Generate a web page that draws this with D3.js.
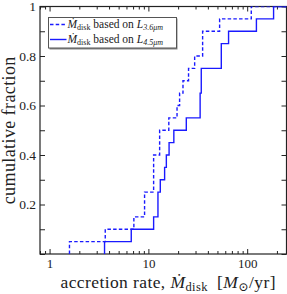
<!DOCTYPE html>
<html>
<head>
<meta charset="utf-8">
<script src="https://cdn.jsdelivr.net/npm/d3@7"></script>
<style>
  body { margin: 0; background: #fff; }
  text { font-family: "Liberation Serif", "DejaVu Serif", serif; fill: #222; }
</style>
</head>
<body>
<script>
//accretion rates (Msun/yr), 20 objects each
var rate36 = [1.59, 3.66, 7.13, 9.15, 9.15, 11.3, 11.3, 11.3, 13.0, 13.0,
              16.1, 19.5, 20.7, 22.4, 25.5, 29.4, 35.4, 35.4, 52.6, 110];
var rate45 = [3.60, 6.71, 11.3, 12.5, 12.5, 13.2, 14.6, 15.2, 16.2, 18.1,
              24.2, 33.4, 33.4, 34.3, 34.3, 54.7, 54.7, 64.8, 124, 185];

var xMajor = [1, 10, 100];
var xMinor = [0.8, 0.9, 2, 3, 4, 5, 6, 7, 8, 9, 20, 30, 40, 50, 60, 70, 80, 90, 200];
var yTicks = [0, 0.1, 0.2, 0.3, 0.4, 0.5, 0.6, 0.7, 0.8, 0.9, 1];
var yLabels = {0.2: "0.2", 0.4: "0.4", 0.6: "0.6", 0.8: "0.8", 1: "1"};

var width = 287,
    height = 294;
var pLeft = 40, pRight = 286.5, pTop = 6.5, pBottom = 254;

var svg = d3.select("body")
    .append("svg")
    .attr("width", width)
    .attr("height", height);

var x = d3.scaleLog().domain([0.8, 250]).range([pLeft, pRight]);
var y = d3.scaleLinear().domain([0, 1]).range([pBottom, pTop]);

//ticks point inward on all four sides
function drawAxis(axis, tx, ty){
    var g = svg.append("g")
        .attr("transform", "translate(" + tx + "," + ty + ")")
        .call(axis);
    g.select(".domain").remove();
    g.selectAll("line").attr("stroke", "#222");
    return g;
}

drawAxis(d3.axisBottom(x).tickValues(xMinor).tickSizeInner(-3).tickSizeOuter(0).tickFormat(""), 0, pBottom);
drawAxis(d3.axisTop(x).tickValues(xMinor).tickSizeInner(-3).tickSizeOuter(0).tickFormat(""), 0, pTop);
drawAxis(d3.axisTop(x).tickValues(xMajor).tickSizeInner(-5).tickSizeOuter(0).tickFormat(""), 0, pTop);
var gx = drawAxis(d3.axisBottom(x).tickValues(xMajor).tickSizeInner(-5).tickSizeOuter(0)
        .tickPadding(5).tickFormat(d3.format("d")), 0, pBottom);
gx.selectAll("text").attr("font-size", 13);

var gy = drawAxis(d3.axisLeft(y).tickValues(yTicks).tickSizeInner(-5).tickSizeOuter(0)
        .tickPadding(4).tickFormat(function(d){ return yLabels[d] || ""; }), pLeft, 0);
gy.selectAll("text").attr("font-size", 13.5);
drawAxis(d3.axisRight(y).tickValues(yTicks).tickSizeInner(-5).tickSizeOuter(0).tickFormat(""), pRight, 0);

svg.append("rect")
    .attr("x", pLeft).attr("y", pTop)
    .attr("width", pRight - pLeft).attr("height", pBottom - pTop)
    .attr("fill", "none").attr("stroke", "#222").attr("stroke-width", 1.2);

//cumulative step curves
svg.append("clipPath").attr("id", "plot")
    .append("rect").attr("x", pLeft).attr("y", pTop)
    .attr("width", pRight - pLeft).attr("height", pBottom - pTop);

function cdf(rates){
    var s = rates.slice().sort(d3.ascending);
    var pts = [[s[0], 0]];
    s.forEach(function(v, i){ pts.push([v, (i + 1) / s.length]); });
    pts.push([250, 1]);
    return pts;
}

var line = d3.line()
    .x(function(d){ return x(d[0]); })
    .y(function(d){ return y(d[1]); })
    .curve(d3.curveStepAfter);

svg.append("path")
    .datum(cdf(rate36))
    .attr("clip-path", "url(#plot)")
    .attr("d", line)
    .attr("fill", "none").attr("stroke", "#1a1aff")
    .attr("stroke-width", 1.4).attr("stroke-dasharray", "3.5,2.2");

svg.append("path")
    .datum(cdf(rate45))
    .attr("clip-path", "url(#plot)")
    .attr("d", line)
    .attr("fill", "none").attr("stroke", "#1a1aff")
    .attr("stroke-width", 1.4);

//legend
var leg = svg.append("g");
leg.append("rect").attr("x", 49.5).attr("y", 18.5).attr("width", 128).attr("height", 31)
    .attr("fill", "#888");
leg.append("rect").attr("x", 48.5).attr("y", 17.5).attr("width", 128).attr("height", 30.5)
    .attr("fill", "#fff").attr("stroke", "#555").attr("stroke-width", 1);

var legItems = [{sub: "3.6\u03BCm", dash: "3.5,2.2", yy: 24.5},
                {sub: "4.5\u03BCm", dash: null, yy: 39.5}];
legItems.forEach(function(d){
    leg.append("line").attr("x1", 50).attr("x2", 66.5).attr("y1", d.yy).attr("y2", d.yy)
        .attr("stroke", "#1a1aff").attr("stroke-width", 1.4)
        .attr("stroke-dasharray", d.dash);
    var t = leg.append("text").attr("x", 67.5).attr("y", d.yy + 3.5).attr("font-size", 11.5);
    t.append("tspan").attr("font-style", "italic").text("\u1E40");
    t.append("tspan").attr("font-size", 8).attr("dy", 2).text("disk");
    t.append("tspan").attr("dy", -2).text(" based on ");
    t.append("tspan").attr("font-style", "italic").text("L");
    t.append("tspan").attr("font-size", 8).attr("dy", 2).attr("font-style", "italic").text(d.sub);
});

//axis titles
svg.append("text")
    .attr("transform", "translate(15," + ((pTop + pBottom) / 2) + ") rotate(-90)")
    .attr("text-anchor", "middle")
    .attr("font-size", 18)
    .attr("letter-spacing", 0.4)
    .text("cumulative fraction");

var xl = svg.append("text")
    .attr("x", (pLeft + pRight) / 2 + 5).attr("y", 287.5)
    .attr("text-anchor", "middle")
    .attr("font-size", 17.5)
    .attr("letter-spacing", 0.4);
xl.append("tspan").text("accretion rate, ");
xl.append("tspan").attr("font-style", "italic").text("\u1E40");
xl.append("tspan").attr("font-size", 12.5).attr("dy", 3).text("disk");
xl.append("tspan").attr("dy", -3).text("\u2002[");
xl.append("tspan").attr("font-style", "italic").text("M");
xl.append("tspan").attr("font-size", 12.5).attr("dy", 3).text("\u2299");
xl.append("tspan").attr("dy", -3).text("/yr]");
</script>
</body>
</html>
